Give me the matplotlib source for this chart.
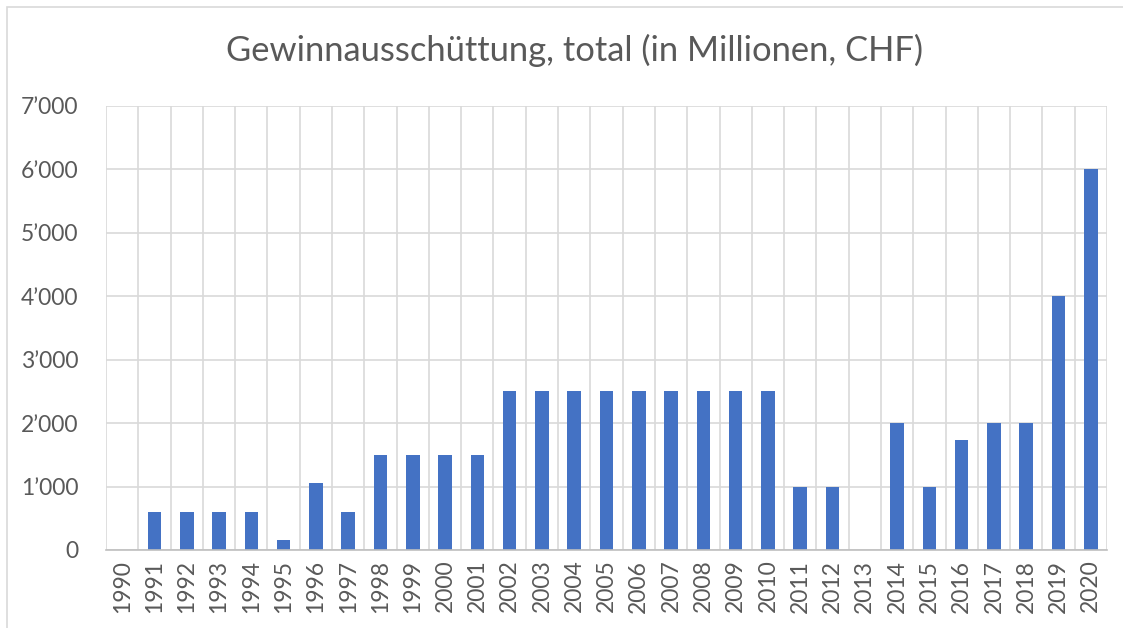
import matplotlib
matplotlib.use("Agg")
import matplotlib.pyplot as plt
from matplotlib.patches import Rectangle
from matplotlib.ticker import FuncFormatter, MultipleLocator

years = [str(y) for y in range(1990, 2021)]
values = [0, 600, 600, 600, 600, 150, 1060, 600, 1500, 1500, 1500, 1500,
          2500, 2500, 2500, 2500, 2500, 2500, 2500, 2500, 2500,
          1000, 1000, 0, 2000, 1000, 1730, 2000, 2000, 4000, 6000]
title = "Gewinnausschüttung, total (in Millionen, CHF)"

plt.rcParams['font.family'] = ['Lato', 'DejaVu Sans']
text_color = "#595959"
grid_color = "#D9D9D9"

fig = plt.figure(figsize=(11.23, 6.28), dpi=100)
fig.patches.append(Rectangle((7/1123, -0.1), 1.2, 1 - 7/628 + 0.1,
                             transform=fig.transFigure, fill=False,
                             edgecolor=grid_color, linewidth=1.2))
ax = fig.add_axes([106/1123, 1 - 550/628, (1107 - 106)/1123, (550 - 106)/628])

x = list(range(len(years)))
ax.bar(x, values, width=0.42, color="#4472C4", zorder=3)

ax.set_xlim(-0.5, len(years) - 0.5)
ax.set_ylim(0, 7000)
ax.yaxis.set_major_locator(MultipleLocator(1000))
ax.yaxis.set_major_formatter(FuncFormatter(
    lambda v, p: "0" if v == 0 else f"{int(v)//1000}\u2019{int(v)%1000:03d}"))
ax.set_xticks(x)
ax.set_xticklabels(years, rotation=90)

for b in [i + 0.5 for i in range(-1, len(years))]:
    ax.axvline(b, color=grid_color, linewidth=1.2, zorder=1)
ax.yaxis.grid(True, color=grid_color, linewidth=1.2, zorder=1)
ax.set_axisbelow(True)

for s in ["top", "right", "left"]:
    ax.spines[s].set_visible(False)
ax.spines["bottom"].set_color("#BFBFBF")
ax.spines["bottom"].set_linewidth(1.2)
ax.spines["bottom"].set_zorder(4)

ax.tick_params(axis="both", length=0, labelcolor=text_color, labelsize=16.5)
ax.tick_params(axis="y", pad=20)
ax.tick_params(axis="x", pad=7)

fig.text(575/1123, 1 - 50/628, title, ha="center", va="center",
         fontsize=24.8, color=text_color)

fig.savefig("out.png", dpi=100, facecolor="white")
